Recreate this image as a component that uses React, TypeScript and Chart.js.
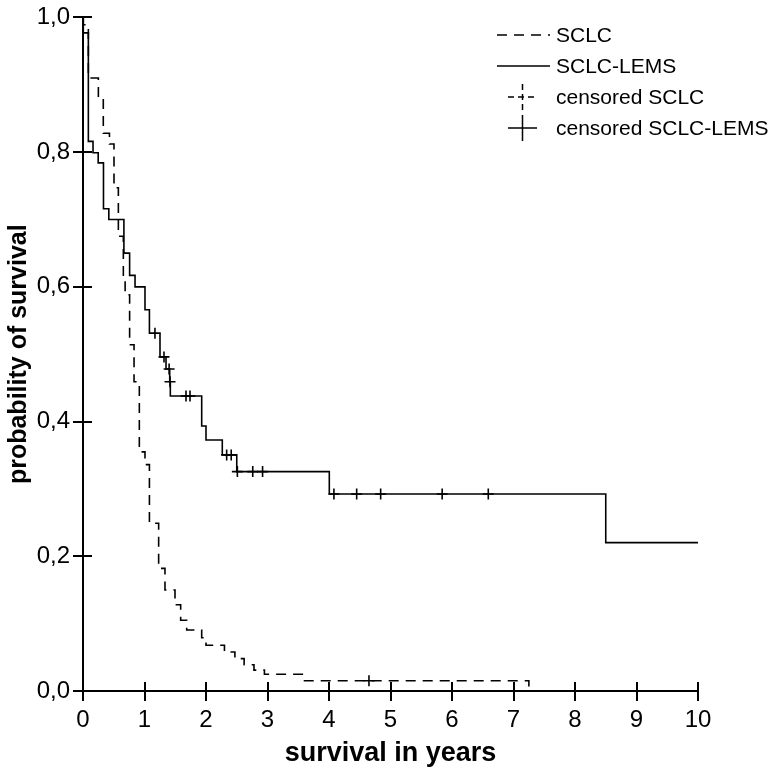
import React, { useEffect, useRef } from 'react';
import { Chart, registerables } from 'chart.js';

Chart.register(...registerables);

const FONT = '"Liberation Sans", Arial, Helvetica, sans-serif';

const xTickValues = [0, 1, 2, 3, 4, 5, 6, 7, 8, 9, 10];
const xTickLabels = ['0', '1', '2', '3', '4', '5', '6', '7', '8', '9', '10'];
const yTickValues = [0, 0.2, 0.4, 0.6, 0.8, 1.0];
const yTickLabels = ['0,0', '0,2', '0,4', '0,6', '0,8', '1,0'];

const seriesLabels = ['SCLC', 'SCLC-LEMS', 'censored SCLC', 'censored SCLC-LEMS'];

// SCLC (dashed) Kaplan-Meier steps
const sclcTimes = [0, 0.005, 0.087, 0.25, 0.33, 0.43, 0.504, 0.575, 0.656, 0.685, 0.758, 0.83, 0.916, 1.008, 1.08, 1.23, 1.333, 1.496, 1.588, 1.686, 1.93, 2.0, 2.3, 2.47, 2.62, 2.78, 2.95, 3.58, 7.25];
const sclcSurvival = [1.0, 0.989, 0.91, 0.88, 0.828, 0.812, 0.747, 0.675, 0.615, 0.588, 0.514, 0.459, 0.355, 0.336, 0.249, 0.182, 0.15, 0.128, 0.105, 0.0906, 0.079, 0.068, 0.058, 0.048, 0.039, 0.031, 0.0248, 0.0153, 0];

// SCLC-LEMS (solid) Kaplan-Meier steps
const lemsTimes = [0, 0.005, 0.087, 0.163, 0.247, 0.333, 0.42, 0.665, 0.758, 0.846, 1.008, 1.08, 1.252, 1.35, 1.41, 1.42, 1.93, 2.0, 2.265, 2.5, 4.005, 8.5, 10];
const lemsSurvival = [1.0, 0.977, 0.816, 0.799, 0.784, 0.716, 0.7, 0.65, 0.617, 0.6, 0.566, 0.531, 0.496, 0.478, 0.459, 0.438, 0.3935, 0.3727, 0.3505, 0.3257, 0.2925, 0.2203, 0.2203];

// censored observations
const sclcCensorTimes = [4.65];
const sclcCensorSurvival = [0.0153];
const lemsCensorTimes = [1.17, 1.317, 1.4, 1.415, 1.675, 1.74, 2.336, 2.41, 2.51, 2.76, 2.92, 4.08, 4.45, 4.84, 5.84, 6.59];
const lemsCensorSurvival = [0.531, 0.496, 0.478, 0.459, 0.438, 0.438, 0.3505, 0.3505, 0.3257, 0.3257, 0.3257, 0.2925, 0.2925, 0.2925, 0.2925, 0.2925];

const toPoints = (xs: number[], ys: number[]) => xs.map((x, i) => ({ x, y: ys[i] }));

const innerTicksPlugin = {
  id: 'innerTicks',
  afterDraw(chart: any) {
    const { ctx, chartArea, scales } = chart;
    ctx.save();
    ctx.strokeStyle = '#000';
    ctx.lineWidth = 2;
    ctx.setLineDash([]);
    scales.x.ticks.forEach((t: any) => {
      const px = Math.round(scales.x.getPixelForValue(t.value));
      ctx.beginPath();
      ctx.moveTo(px, chartArea.bottom);
      ctx.lineTo(px, chartArea.bottom - 9);
      ctx.stroke();
    });
    scales.y.ticks.forEach((t: any) => {
      const py = Math.round(scales.y.getPixelForValue(t.value));
      ctx.beginPath();
      ctx.moveTo(chartArea.left, py);
      ctx.lineTo(chartArea.left + 9, py);
      ctx.stroke();
    });
    ctx.restore();
  },
};

const legendPlugin = {
  id: 'kmLegend',
  afterDraw(chart: any) {
    const ctx = chart.ctx;
    const rows = [35, 66, 97, 128];
    ctx.save();
    ctx.font = `21px ${FONT}`;
    ctx.fillStyle = '#000';
    ctx.strokeStyle = '#000';
    ctx.lineWidth = 1.5;
    ctx.textBaseline = 'middle';
    ctx.textAlign = 'left';
    chart.data.datasets.forEach((ds: any, i: number) => {
      const y = rows[i];
      ctx.setLineDash(ds.legendDash || []);
      ctx.beginPath();
      if (ds.showLine === false) {
        ctx.moveTo(508, y);
        ctx.lineTo(537, y);
        ctx.moveTo(522.5, y - 13);
        ctx.lineTo(522.5, y + 13);
      } else {
        ctx.moveTo(497, y);
        ctx.lineTo(550, y);
      }
      ctx.stroke();
      ctx.setLineDash([]);
      ctx.fillText(ds.label, 556, y + 1);
    });
    ctx.restore();
  },
};

export default function App() {
  const canvasRef = useRef<HTMLCanvasElement | null>(null);

  useEffect(() => {
    if (!canvasRef.current) return;
    const tickFont = { family: FONT, size: 24 };
    const chart = new Chart(canvasRef.current, {
      type: 'line',
      data: {
        datasets: [
          {
            label: seriesLabels[0],
            data: toPoints(sclcTimes, sclcSurvival),
            stepped: 'before',
            borderColor: '#000',
            borderWidth: 1.6,
            borderDash: [10, 7],
            legendDash: [10, 7],
            pointRadius: 0,
            fill: false,
          } as any,
          {
            label: seriesLabels[1],
            data: toPoints(lemsTimes, lemsSurvival),
            stepped: 'before',
            borderColor: '#000',
            borderWidth: 1.6,
            pointRadius: 0,
            fill: false,
          },
          {
            label: seriesLabels[2],
            data: toPoints(sclcCensorTimes, sclcCensorSurvival),
            showLine: false,
            legendDash: [6, 4],
            pointStyle: 'cross',
            pointRadius: 5.5,
            pointBorderWidth: 1.6,
            borderColor: '#000',
            backgroundColor: '#000',
          } as any,
          {
            label: seriesLabels[3],
            data: toPoints(lemsCensorTimes, lemsCensorSurvival),
            showLine: false,
            pointStyle: 'cross',
            pointRadius: 5.5,
            pointBorderWidth: 1.6,
            borderColor: '#000',
            backgroundColor: '#000',
          },
        ],
      },
      options: {
        animation: false,
        responsive: false,
        devicePixelRatio: 1,
        events: [],
        layout: { padding: { top: 17, right: 79, left: 0, bottom: 0 } },
        plugins: {
          legend: { display: false },
          tooltip: { enabled: false },
        },
        scales: {
          x: {
            type: 'linear',
            min: 0,
            max: 10,
            afterFit: (s: any) => {
              s.height = 80;
            },
            afterBuildTicks: (s: any) => {
              s.ticks = xTickValues.map((v) => ({ value: v }));
            },
            ticks: {
              color: '#000',
              font: tickFont,
              padding: 5,
              maxRotation: 0,
              autoSkip: false,
              callback: (_v: any, i: number) => xTickLabels[i],
            },
            grid: {
              display: true,
              drawOnChartArea: false,
              drawTicks: true,
              tickLength: 10,
              color: '#000',
              lineWidth: 2,
            },
            border: { display: true, color: '#000', width: 2 },
            title: {
              display: true,
              text: 'survival in years',
              color: '#000',
              font: { family: FONT, size: 27, weight: 'bold' },
              padding: { top: 0, bottom: 1 },
            },
          },
          y: {
            type: 'linear',
            min: 0,
            max: 1,
            afterFit: (s: any) => {
              s.width = 83;
            },
            afterBuildTicks: (s: any) => {
              s.ticks = yTickValues.map((v) => ({ value: v }));
            },
            ticks: {
              color: '#000',
              font: tickFont,
              padding: 3,
              autoSkip: false,
              callback: (_v: any, i: number) => yTickLabels[i],
            },
            grid: {
              display: true,
              drawOnChartArea: false,
              drawTicks: true,
              tickLength: 10,
              color: '#000',
              lineWidth: 2,
            },
            border: { display: true, color: '#000', width: 2 },
            title: {
              display: true,
              text: 'probability of survival',
              color: '#000',
              font: { family: FONT, size: 25, weight: 'bold' },
              padding: { top: 4, bottom: 0 },
            },
          },
        },
      } as any,
      plugins: [innerTicksPlugin, legendPlugin],
    });
    return () => chart.destroy();
  }, []);

  return (
    <div style={{ position: 'absolute', left: 0, top: 0, width: 777, height: 771, background: '#fff' }}>
      <canvas ref={canvasRef} width={777} height={771} style={{ display: 'block', width: 777, height: 771 }} />
    </div>
  );
}
